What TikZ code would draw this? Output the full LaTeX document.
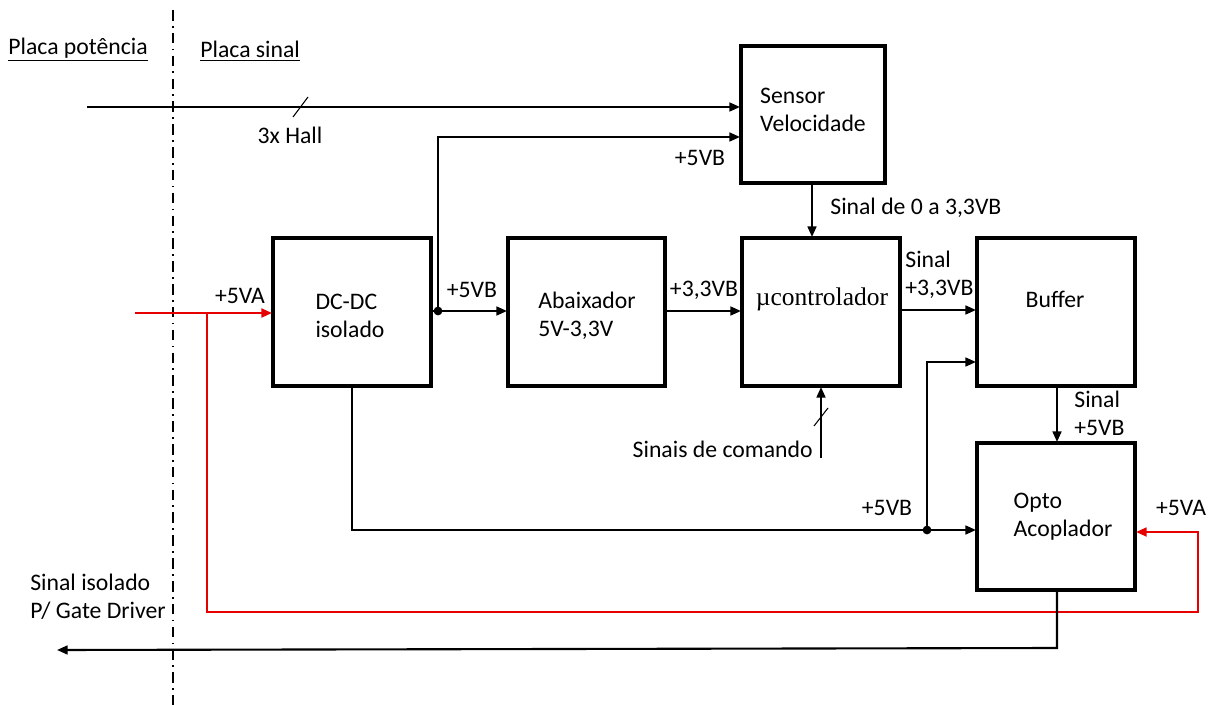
\documentclass[tikz,border=0pt]{standalone}
\usepackage{fontspec}
\setmainfont{Carlito}
\newfontfamily\serifmu{Liberation Serif}
\usetikzlibrary{arrows.meta,calc}
\begin{document}
\begin{tikzpicture}[x=0.02cm,y=-0.02cm,
  conn/.style={line width=1.2pt,-{Triangle[length=6pt,width=5pt]}},
  redc/.style={line width=1.3pt,draw={rgb,255:red,230;green,0;blue,0}},
  lbl/.style={inner sep=0,align=left,font=\fontsize{13.5}{16}\selectfont},
  dot/.style={circle,fill,inner sep=0,minimum size=5pt},
  box/.style={line width=1.9pt}]
\useasboundingbox (0,0) rectangle (1216,705);
% boxes
\draw[box] (741,46) rectangle (885,183);
\node[lbl] (sens) at (813,110) {Sensor\\Velocidade};
\draw[box] (273,238) rectangle (431,386);
\node[lbl] (dcdc) at (350,316) {DC-DC\\isolado};
\draw[box] (508,238) rectangle (665,386);
\node[lbl] (aba) at (587,316) {Abaixador\\5V-3,3V};
\draw[box] (742,238) rectangle (900,386);
\node[inner sep=0] (mu) at (822,299) {\serifmu\fontsize{14.5}{16}\selectfont µcontrolador};
\draw[box] (977,238) rectangle (1135,386);
\node[lbl] (buf) at (1055,299) {Buffer};
\draw[box] (977,443) rectangle (1135,590);
\node[lbl] (opto) at (1063,517) {Opto\\Acoplador};
% coordinates
\coordinate (hallL) at (87,107);
\coordinate (hallR) at (740,107);
\coordinate (jB) at (438,311);
\coordinate (jB2) at (927,530);
% separator
\draw[line width=1.2pt,dash pattern=on 6pt off 3pt on 1pt off 3pt] (173,10) -- (173,705);
\node[lbl,anchor=south west] (pp) at (8,62) {\underline{Placa potência}};
\node[lbl,anchor=south west] (ps) at (200,62) {\underline{Placa sinal}};
% hall
\draw[conn] (hallL) -- (hallR);
\draw[line width=0.6pt] (293,117) -- (308,97);
\node[lbl] (hall) at (290,135) {3x Hall};
% +5VB to sensor
\draw[conn] (jB) -- (438,137) -- (740,137);
\node[lbl] (l5vb1) at (700,158) {+5VB};
% sensor to mu
\draw[conn] (812,183) -- (812,237);
\node[lbl,anchor=west] (s03) at (830,208) {Sinal de 0 a 3,3VB};
% dcdc -> aba
\draw[conn] (431,311) -- (507,311);
\node[dot] at (jB) {};
\node[lbl] (l5vb2) at (472,290) {+5VB};
% aba -> mu
\draw[conn] (665,311) -- (741,311);
\node[lbl] (l33) at (704,290) {+3,3VB};
% mu -> buffer
\draw[conn] (900,310) -- (976,310);
\node[lbl,anchor=north west] (s33) at (905,251) {Sinal\\+3,3VB};
% sinais de comando
\draw[conn] (821,458) -- (821,387);
\draw[line width=0.6pt] (814,426) -- (828,408);
\node[lbl,anchor=east] (cmd) at (813,449) {Sinais de comando};
% dcdc bottom -> opto
\draw[conn] (352,386) -- (352,530) -- (976,530);
\draw[conn] (jB2) -- (927,362) -- (976,362);
\node[dot] at (jB2) {};
\node[lbl] (l5vb3) at (887,508) {+5VB};
% buffer -> opto
\draw[conn] (1057,386) -- (1057,442);
\node[lbl,anchor=north west] (s5) at (1074,391) {Sinal\\+5VB};
% red
\draw[redc,-{Triangle[length=6pt,width=5pt]}] (135,313) -- (272,313);
\draw[redc,-{Triangle[length=6pt,width=5pt]}] (207,313) -- (207,612) -- (1198,612) -- (1198,532) -- (1136,532);
\node[lbl] (l5va1) at (240,296) {+5VA};
\node[lbl] (l5va2) at (1181,508) {+5VA};
% output
\draw[conn] (1057,590) -- (1057,648) -- (57,650);
\node[lbl,anchor=north west] (gate) at (30,574) {Sinal isolado\\P/ Gate Driver};
\end{tikzpicture}
\end{document}
